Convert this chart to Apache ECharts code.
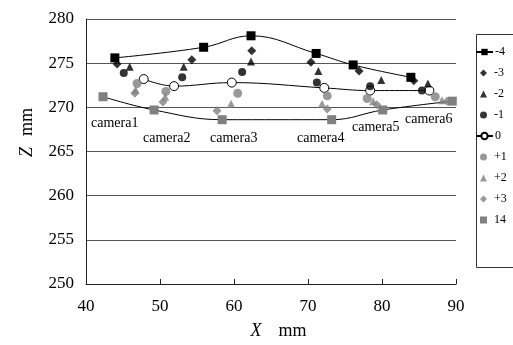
<!DOCTYPE html>
<html>
<head>
<meta charset="utf-8">
<script src="https://cdn.jsdelivr.net/npm/echarts@6/dist/echarts.min.js"></script>
<style>
  html, body { margin: 0; padding: 0; background: #fff; }
  #chart { width: 513px; height: 345px; }
</style>
</head>
<body>
<div id="chart"></div>
<script>
// measured points [X mm, Z mm] per offset
const m4 = [[43.9, 275.6], [55.9, 276.8], [62.3, 278.1], [71.1, 276.1], [76.1, 274.8], [83.9, 273.4]]
const m3 = [[44.2, 274.9], [54.3, 275.4], [62.4, 276.4], [70.4, 275.1], [76.9, 274.1], [84.3, 273.0]]
const m2 = [[45.9, 274.6], [53.2, 274.6], [62.3, 275.2], [71.4, 274.1], [79.9, 273.1], [86.2, 272.7]]
const m1 = [[45.1, 273.9], [53.0, 273.4], [61.1, 274.0], [71.2, 272.8], [78.4, 272.4], [85.4, 271.9]]
const z0 = [[47.8, 273.2], [51.9, 272.4], [59.7, 272.8], [72.2, 272.2], [78.4, 271.9], [86.4, 271.9]]
const p1 = [[46.9, 272.7], [50.8, 271.8], [60.5, 271.6], [72.6, 271.3], [78.0, 271.0], [87.2, 271.2]]
const p2 = [[46.7, 272.0], [50.7, 271.2], [59.6, 270.4], [71.9, 270.4], [78.8, 270.7], [88.1, 270.8]]
const p3 = [[46.6, 271.6], [50.4, 270.6], [57.7, 269.6], [72.6, 269.8], [79.3, 270.3], [88.8, 270.7]]
const p4 = [[42.3, 271.2], [49.2, 269.7], [58.4, 268.6], [73.2, 268.6], [80.1, 269.7], [89.5, 270.7]]

const cameraNames = ['camera1', 'camera2', 'camera3', 'camera4', 'camera5', 'camera6']

const FONT = 'Liberation Serif'
const BLACK = '#000'
const GRAY = '#808080'

const chart = echarts.init(document.getElementById('chart'), null, { renderer: 'canvas' })

const scatter = (name, data, symbol, size, color) => ({
  name, type: 'scatter', data, symbol, symbolSize: size,
  itemStyle: { color }, z: 3
})

const smoothLine = (name, data, symbol, size, itemStyle) => ({
  name, type: 'line', data, symbol, symbolSize: size, smooth: 0.4,
  showSymbol: true, itemStyle,
  lineStyle: { color: BLACK, width: 1 }, z: 2
})

// the legend is split so line items keep a wide icon and marker items a small one
const legendPart = (names, top, wide) => ({
  orient: 'vertical', left: wide ? 475 : 480, top, padding: 0,
  itemWidth: wide ? 17 : 7, itemHeight: wide ? 8 : 7, itemGap: 9,
  textStyle: { fontSize: 12, lineHeight: 12, color: BLACK, fontFamily: FONT, padding: [0, 0, 0, wide ? -3 : 2] },
  data: names.map(n => n === '14' ? { name: n, icon: 'rect' } : { name: n })
})

// label spots for camera names (pixels)
const camPos = [[91, 116], [143, 131], [210, 131], [297, 131], [352, 120], [405, 112]]

const axisName = (letter, gap) => ({
  text: '{i|' + letter + '}{s| }mm',
  style: { color: BLACK, fontSize: 18, fontFamily: FONT,
    rich: {
      i: { fontStyle: 'italic', fontSize: 18, fontFamily: FONT, color: BLACK },
      s: { width: gap, fontSize: 18 }
    } }
})

const xName = axisName('X', 17)
const yName = axisName('Z', 11)

chart.setOption({
  animation: false,
  textStyle: { fontFamily: FONT },
  grid: { left: 86, right: 57, top: 19, bottom: 57 },
  xAxis: {
    type: 'value', min: 40, max: 90, interval: 10,
    name: xName.text, nameLocation: 'middle', nameGap: 38,
    nameTextStyle: Object.assign({ padding: [0, 0, 0, 15] }, xName.style),
    axisLine: { lineStyle: { color: '#222', width: 1 } },
    axisTick: { show: true, inside: true, length: 5, lineStyle: { color: '#222' } },
    axisLabel: { color: BLACK, fontSize: 17, margin: 14, fontFamily: FONT },
    splitLine: { show: false }
  },
  yAxis: {
    type: 'value', min: 250, max: 280, interval: 5,
    name: yName.text, nameLocation: 'middle', nameGap: 50, nameRotate: 90,
    nameTextStyle: Object.assign({ padding: [0, 0, 0, 38] }, yName.style),
    axisLine: { show: true, lineStyle: { color: '#222', width: 1 } },
    axisTick: { show: false },
    axisLabel: { color: BLACK, fontSize: 17, margin: 12, fontFamily: FONT },
    splitLine: { lineStyle: { color: '#555', width: 1 } }
  },
  legend: [
    legendPart(['-4'], 46, true),
    legendPart(['-3', '-2', '-1'], 67, false),
    legendPart(['0'], 130, true),
    legendPart(['+1', '+2', '+3', '14'], 151, false)
  ],
  graphic: [
    {
      type: 'rect', left: 474, top: 32, silent: true,
      shape: { width: 60, height: 233 },
      style: { fill: 'none', stroke: '#333', lineWidth: 1 }
    }
  ].concat(cameraNames.map((t, i) => ({
    type: 'text', left: camPos[i][0], top: camPos[i][1], silent: true,
    style: { text: t, fontSize: 14, fontFamily: FONT, fill: BLACK }
  }))),
  series: [
    smoothLine('-4', m4, 'rect', 9, { color: BLACK }),
    scatter('-3', m3, 'diamond', 9, BLACK),
    scatter('-2', m2, 'triangle', 8, BLACK),
    scatter('-1', m1, 'circle', 8, BLACK),
    smoothLine('0', z0, 'circle', 9, { color: '#fff', borderColor: BLACK, borderWidth: 1 }),
    scatter('+1', p1, 'circle', 9, GRAY),
    scatter('+2', p2, 'triangle', 8, GRAY),
    scatter('+3', p3, 'diamond', 9, GRAY),
    smoothLine('14', p4, 'rect', 9, { color: GRAY })
  ]
})
</script>
</body>
</html>
